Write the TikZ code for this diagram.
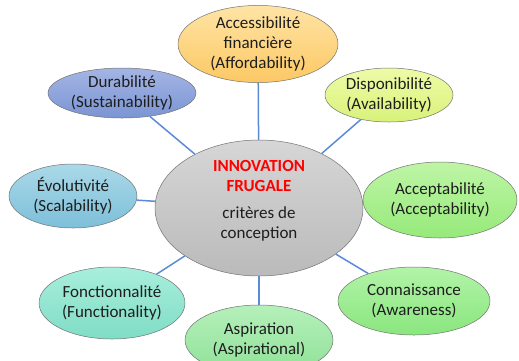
\documentclass[tikz,border=0pt]{standalone}
\usepackage{fontspec}
\setmainfont{Carlito}
\usetikzlibrary{shapes.geometric}
\definecolor{trait}{RGB}{91,139,213}
\definecolor{texte}{RGB}{30,30,30}
\tikzset{
    bulle/.style={ellipse,draw=black!55,line width=0.5pt,inner sep=0pt,align=center,
      text=texte,font=\fontsize{17}{20}\selectfont},
    lien/.style={draw=trait,line width=1.5pt},
  }

\begin{document}
\begin{tikzpicture}[x=1pt,y=-1pt]
				  %cadre de l'image
				  \useasboundingbox (0,0) rectangle (519,360);
				  %centre
				  \node[bulle,minimum width=208pt,minimum height=136pt,top color=black!16,bottom color=black!27](C) at (259,208) {};
				  \node[align=center,text=texte,font=\fontsize{17}{20}\selectfont](T) at (259,201)
				       {\textcolor{red}{\textbf{INNOVATION}}\\\textcolor{red}{\textbf{FRUGALE}}\\[7pt]crit\`eres de\\conception};
				  %criteres
				  \node[bulle,minimum width=160pt,minimum height=72pt,top color={rgb,255:red,255;green,228;blue,165},bottom color={rgb,255:red,252;green,200;blue,100}](A) at (258,44) {Accessibilit\'e\\financi\`ere\\(Affordability)};
				  \node[bulle,minimum width=148pt,minimum height=50pt,top color={rgb,255:red,164;green,181;blue,228},bottom color={rgb,255:red,122;green,149;blue,212}](D) at (122,93) {Durabilit\'e\\(Sustainability)};
				  \node[bulle,minimum width=128pt,minimum height=54pt,top color={rgb,255:red,238;green,251;blue,168},bottom color={rgb,255:red,216;green,242;blue,122}](P) at (389,95) {Disponibilit\'e\\(Availability)};
				  \node[bulle,minimum width=128pt,minimum height=64pt,top color={rgb,255:red,170;green,217;blue,232},bottom color={rgb,255:red,125;green,191;blue,217}](E) at (73,196) {\'Evolutivit\'e\\(Scalability)};
				  \node[bulle,minimum width=154pt,minimum height=76pt,top color={rgb,255:red,190;green,245;blue,166},bottom color={rgb,255:red,150;green,234;blue,122}](K) at (440,200) {Acceptabilit\'e\\(Acceptability)};
				  \node[bulle,minimum width=152pt,minimum height=68pt,top color={rgb,255:red,178;green,243;blue,168},bottom color={rgb,255:red,138;green,230;blue,126}](N) at (414,301) {Connaissance\\(Awareness)};
				  \node[bulle,minimum width=146pt,minimum height=72pt,top color={rgb,255:red,168;green,238;blue,221},bottom color={rgb,255:red,128;green,221;blue,197}](F) at (112,303) {Fonctionnalit\'e\\(Functionality)};
				  \node[bulle,minimum width=148pt,minimum height=70pt,top color={rgb,255:red,181;green,240;blue,186},bottom color={rgb,255:red,143;green,225;blue,151}](S) at (259,340) {Aspiration\\(Aspirational)};
				  %liens
				  \foreach \b in {A,D,P,E,N,F,S}
				     \draw[lien] (C) -- (\b);
				  \end{tikzpicture}
\end{document}
